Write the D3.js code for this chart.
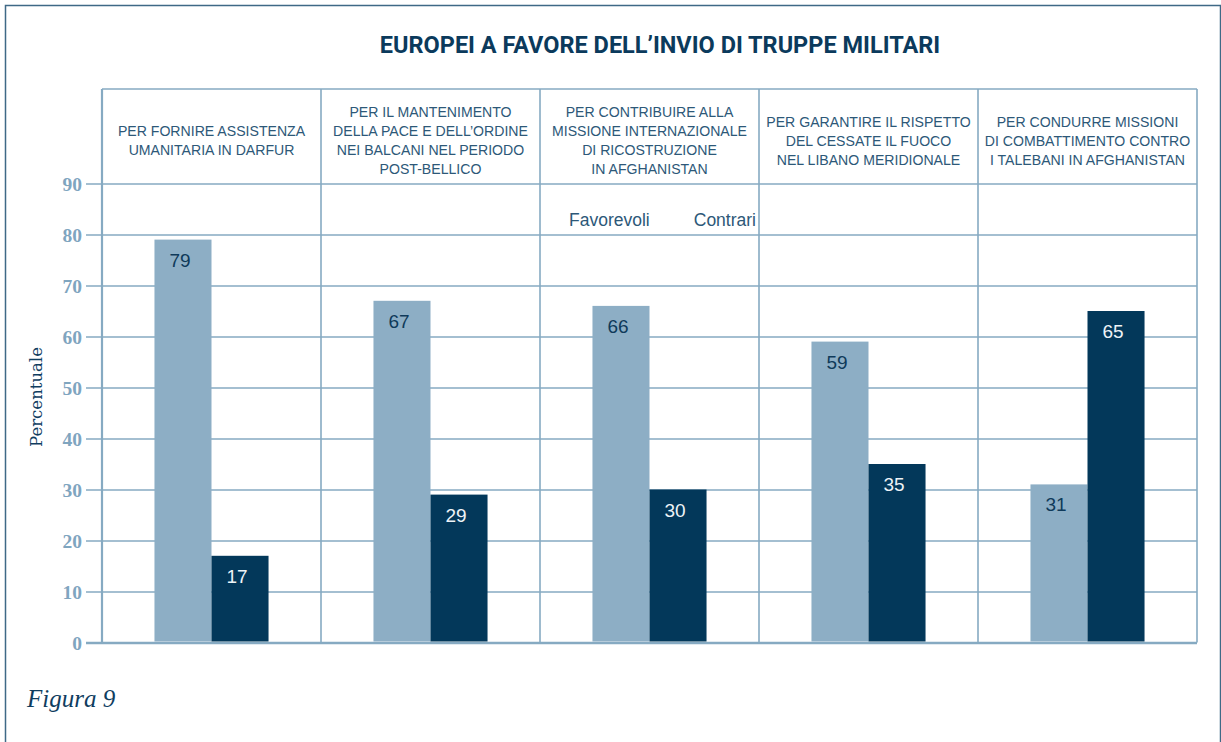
<!DOCTYPE html>
<html>
<head>
<meta charset="utf-8">
<script src="https://cdn.jsdelivr.net/npm/d3@7"></script>
<style>
  html, body { margin: 0; padding: 0; background: #fff; }
  svg { display: block; }
</style>
</head>
<body>
<div class="canvas"></div>
<script>
// categories (panel headers, one entry per printed line)
const categories = [
  ["PER FORNIRE ASSISTENZA", "UMANITARIA IN DARFUR"],
  ["PER IL MANTENIMENTO", "DELLA PACE E DELL\u2019ORDINE", "NEI BALCANI NEL PERIODO", "POST-BELLICO"],
  ["PER CONTRIBUIRE ALLA", "MISSIONE INTERNAZIONALE", "DI RICOSTRUZIONE", "IN AFGHANISTAN"],
  ["PER GARANTIRE IL RISPETTO", "DEL CESSATE IL FUOCO", "NEL LIBANO MERIDIONALE"],
  ["PER CONDURRE MISSIONI", "DI COMBATTIMENTO CONTRO", "I TALEBANI IN AFGHANISTAN"]
];
const series = ["Favorevoli", "Contrari"];
const favorevoli = [79, 67, 66, 59, 31];
const contrari = [17, 29, 30, 35, 65];
const yTicks = [0, 10, 20, 30, 40, 50, 60, 70, 80, 90];

const width = 1221;
const height = 742;
const marginLeft = 102;
const marginRight = 24;
const plotTop = 89;
const marginTop = 183.5;
const marginBottom = 99;

const lightBar = "#8daec5";
const darkBar = "#03385a";
const gridColor = "#86aac2";
const navy = "#0f3d5f";
const headerText = "#2d5878";

const rows = categories.map((c, i) => ({
  key: i,
  lines: c,
  values: [
    {s: "Favorevoli", v: favorevoli[i]},
    {s: "Contrari", v: contrari[i]}
  ]
}));

const x = d3.scaleBand()
  .domain(rows.map(d => d.key))
  .range([marginLeft, width - marginRight])
  .padding(0);

const xs = d3.scaleBand()
  .domain(series)
  .range([0, x.bandwidth()])
  .paddingInner(0)
  .paddingOuter(0.92);

const y = d3.scaleLinear()
  .domain([0, 90])
  .range([height - marginBottom - 0.5, marginTop]);

const svg = d3.select(".canvas").append("svg")
  .attr("width", width)
  .attr("height", height);

// outer frame
svg.append("rect")
  .attr("x", 5.5).attr("y", 5.5)
  .attr("width", 1215).attr("height", 760)
  .attr("fill", "none")
  .attr("stroke", "#3f6986")
  .attr("stroke-width", 1.5);

// title
svg.append("text")
  .attr("x", 660).attr("y", 53)
  .attr("text-anchor", "middle")
  .attr("font-family", "Roboto, 'Liberation Sans', sans-serif")
  .attr("font-weight", "bold")
  .attr("font-size", 23.5)
  .attr("fill", "#0b3a5c")
  .text("EUROPEI A FAVORE DELL\u2019INVIO DI TRUPPE MILITARI");

// grid + y axis
const yAxis = d3.axisLeft(y)
  .tickValues(yTicks)
  .tickSize(-(width - marginRight - marginLeft) - 16)
  .tickPadding(5)
  .tickFormat(d3.format("d"));

const gy = svg.append("g")
  .attr("transform", `translate(${marginLeft + 0}, 0)`)
  .call(yAxis);
gy.select(".domain").remove();
gy.selectAll(".tick line")
  .attr("x1", -16)
  .attr("x2", width - marginRight - marginLeft)
  .attr("stroke", gridColor)
  .attr("stroke-width", d => d === 0 ? 2.5 : 1.6);
gy.selectAll(".tick text")
  .attr("x", -20)
  .attr("dy", "0.36em")
  .attr("font-family", "'Liberation Serif', 'Times New Roman', serif")
  .attr("font-weight", "bold")
  .attr("font-size", 19.5)
  .attr("fill", "#7fa5bf");

// header box top line
svg.append("line")
  .attr("x1", marginLeft).attr("x2", width - marginRight)
  .attr("y1", plotTop).attr("y2", plotTop)
  .attr("stroke", gridColor).attr("stroke-width", 1.6);

// panel separators
svg.selectAll("line.sep")
  .data(x.domain().concat(["end"]))
  .join("line")
    .attr("class", "sep")
    .attr("x1", d => d === "end" ? width - marginRight : x(d))
    .attr("x2", d => d === "end" ? width - marginRight : x(d))
    .attr("y1", plotTop)
    .attr("y2", y(0))
    .attr("stroke", gridColor)
    .attr("stroke-width", d => d === 0 ? 2.2 : 1.6);

// header text
const headers = svg.selectAll("text.header")
  .data(rows)
  .join("text")
    .attr("class", "header")
    .attr("text-anchor", "middle")
    .attr("font-family", "'Liberation Sans', Arial, sans-serif")
    .attr("font-size", 14.1)
    .attr("fill", headerText);
headers.selectAll("tspan")
  .data(d => d.lines.map((l, i) => ({l, i, n: d.lines.length, key: d.key})))
  .join("tspan")
    .attr("x", d => x(d.key) + x.bandwidth() / 2)
    .attr("y", d => 145.5 - (d.n - 1) * 9.5 + d.i * 19)
    .text(d => d.l);

// bars
const groups = svg.selectAll("g.panel")
  .data(rows)
  .join("g")
    .attr("class", "panel")
    .attr("transform", d => `translate(${x(d.key)},0)`);

groups.selectAll("rect")
  .data(d => d.values)
  .join("rect")
    .attr("x", d => xs(d.s))
    .attr("y", d => y(d.v))
    .attr("width", xs.bandwidth())
    .attr("height", d => y(0) - y(d.v) - 1)
    .attr("fill", d => d.s === "Favorevoli" ? lightBar : darkBar);

groups.selectAll("text")
  .data(d => d.values)
  .join("text")
    .attr("x", d => xs(d.s) + xs.bandwidth() / 2 - 3)
    .attr("y", d => y(d.v) + 27)
    .attr("text-anchor", "middle")
    .attr("font-family", "'Liberation Sans', Arial, sans-serif")
    .attr("font-size", 19)
    .attr("fill", d => d.s === "Favorevoli" ? "#0f3a5a" : "#eef3f7")
    .text(d => d.v);

// legend inside the third panel
const legendPanel = x(2);
svg.append("text")
  .attr("x", legendPanel + 29).attr("y", 226)
  .attr("font-family", "'Liberation Sans', Arial, sans-serif")
  .attr("font-size", 17.5)
  .attr("fill", headerText)
  .text(series[0]);
svg.append("text")
  .attr("x", legendPanel + x.bandwidth() - 3).attr("y", 226)
  .attr("text-anchor", "end")
  .attr("font-family", "'Liberation Sans', Arial, sans-serif")
  .attr("font-size", 17.5)
  .attr("fill", headerText)
  .text(series[1]);

// y label
svg.append("text")
  .attr("transform", "translate(42, 397) rotate(-90)")
  .attr("text-anchor", "middle")
  .attr("font-family", "'DejaVu Serif', serif")
  .attr("font-size", 16.5)
  .attr("fill", navy)
  .text("Percentuale");

// figure caption
svg.append("text")
  .attr("x", 27).attr("y", 707)
  .attr("font-family", "'Liberation Serif', 'Times New Roman', serif")
  .attr("font-style", "italic")
  .attr("font-size", 25)
  .attr("fill", navy)
  .text("Figura 9");
</script>
</body>
</html>
